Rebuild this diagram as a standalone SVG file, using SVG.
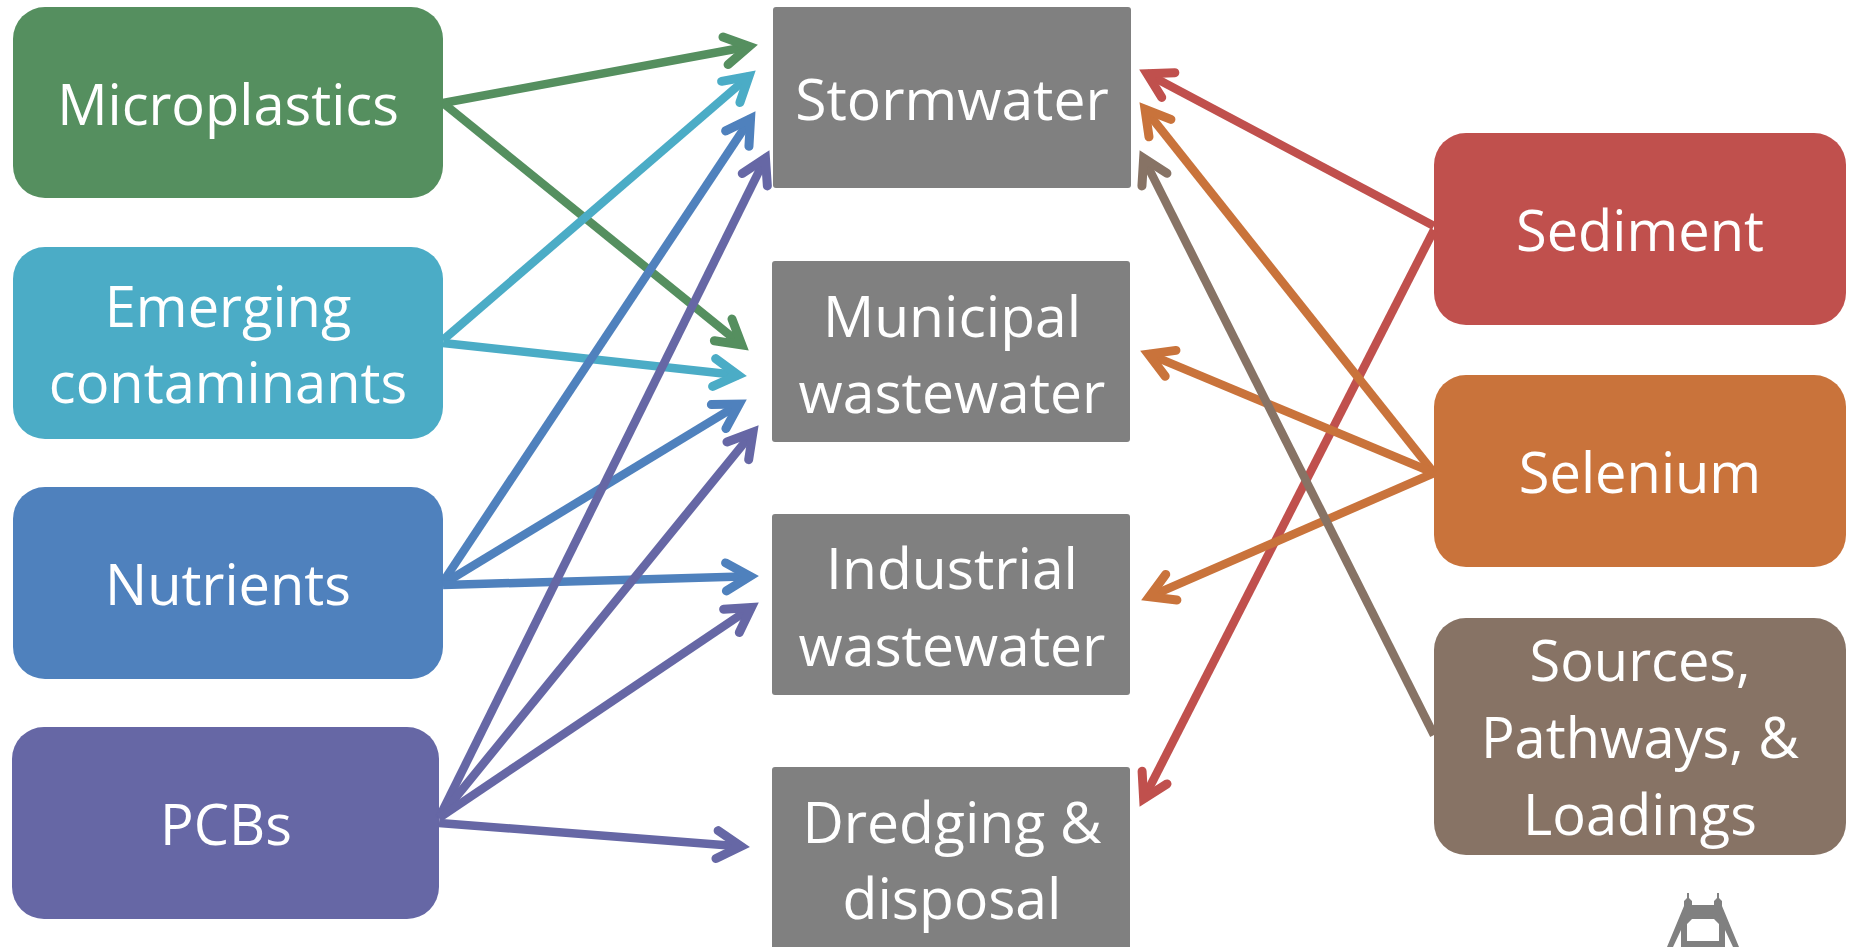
<svg xmlns="http://www.w3.org/2000/svg" width="1854" height="947" viewBox="0 0 1854 947">
<style>
text{font-family:"Open Sans","Liberation Sans",sans-serif;font-size:56px;fill:#fff;text-anchor:middle}
.w{font-size:57px}
.c{fill:none;stroke-width:8.5}
.g{stroke:#558F5F}.cy{stroke:#4BACC6}.b{stroke:#4F81BD}.p{stroke:#6667A5}.r{stroke:#C0504D}.o{stroke:#C9733B}.br{stroke:#877365}
.mh{fill:none;stroke-width:9;stroke-linecap:round;stroke-linejoin:miter;stroke-miterlimit:10}
</style>
<defs>
<marker id="mg" markerUnits="userSpaceOnUse" viewBox="-30 -20 45 40" refX="0" refY="0" markerWidth="45" markerHeight="40" orient="auto"><path class="mh g" d="M-25-14L-1 0L-25 14"/></marker>
<marker id="mcy" markerUnits="userSpaceOnUse" viewBox="-30 -20 45 40" refX="0" refY="0" markerWidth="45" markerHeight="40" orient="auto"><path class="mh cy" d="M-25-14L-1 0L-25 14"/></marker>
<marker id="mb" markerUnits="userSpaceOnUse" viewBox="-30 -20 45 40" refX="0" refY="0" markerWidth="45" markerHeight="40" orient="auto"><path class="mh b" d="M-25-14L-1 0L-25 14"/></marker>
<marker id="mp" markerUnits="userSpaceOnUse" viewBox="-30 -20 45 40" refX="0" refY="0" markerWidth="45" markerHeight="40" orient="auto"><path class="mh p" d="M-25-14L-1 0L-25 14"/></marker>
<marker id="mr" markerUnits="userSpaceOnUse" viewBox="-30 -20 45 40" refX="0" refY="0" markerWidth="45" markerHeight="40" orient="auto"><path class="mh r" d="M-25-14L-1 0L-25 14"/></marker>
<marker id="mo" markerUnits="userSpaceOnUse" viewBox="-30 -20 45 40" refX="0" refY="0" markerWidth="45" markerHeight="40" orient="auto"><path class="mh o" d="M-25-14L-1 0L-25 14"/></marker>
<marker id="mbr" markerUnits="userSpaceOnUse" viewBox="-30 -20 45 40" refX="0" refY="0" markerWidth="45" markerHeight="40" orient="auto"><path class="mh br" d="M-25-14L-1 0L-25 14"/></marker>
</defs>
<rect width="1854" height="947" fill="#fff"/>
<g id="microplastics"><rect x="13" y="7" width="430" height="191" rx="32" fill="#558F5F"/><text x="228" y="125">Microplastics</text></g>
<g id="emerging"><rect x="13" y="247" width="430" height="192" rx="32" fill="#4BACC6"/><text x="228" y="327">Emerging</text><text x="228" y="403">contaminants</text></g>
<g id="nutrients"><rect x="13" y="487" width="430" height="192" rx="32" fill="#4F81BD"/><text x="228" y="605">Nutrients</text></g>
<g id="pcbs"><rect x="12" y="727" width="427" height="192" rx="32" fill="#6667A5"/><text x="226" y="845">PCBs</text></g>
<g id="stormwater"><rect x="773" y="7" width="358" height="181" rx="3" fill="#808080"/><text class="w" x="952" y="120">Stormwater</text></g>
<g id="municipal"><rect x="772" y="261" width="358" height="181" rx="3" fill="#808080"/><text class="w" x="952" y="337">Municipal</text><text class="w" x="952" y="413">wastewater</text></g>
<g id="industrial"><rect x="772" y="514" width="358" height="181" rx="3" fill="#808080"/><text class="w" x="952" y="589">Industrial</text><text class="w" x="952" y="666">wastewater</text></g>
<g id="dredging"><rect x="772" y="767" width="358" height="190" rx="3" fill="#808080"/><text class="w" x="952" y="843">Dredging &amp;</text><text class="w" x="952" y="919">disposal</text></g>
<g id="sediment"><rect x="1434" y="133" width="412" height="192" rx="32" fill="#C0504D"/><text x="1640" y="251">Sediment</text></g>
<g id="selenium"><rect x="1434" y="375" width="412" height="192" rx="32" fill="#C9733B"/><text x="1640" y="493">Selenium</text></g>
<g id="sources"><rect x="1434" y="618" width="412" height="237" rx="32" fill="#877365"/><text x="1640" y="681">Sources,</text><text x="1640" y="758">Pathways, &amp;</text><text x="1640" y="835">Loadings</text></g>
<g id="connectors">
<path class="c g" marker-end="url(#mg)" d="M443 103L750.1 46.3"/>
<path class="c g" marker-end="url(#mg)" d="M443 103L742.6 345.6"/>
<path class="c cy" marker-end="url(#mcy)" d="M443 340L749.7 75.6"/>
<path class="c cy" marker-end="url(#mcy)" d="M443 343L739 375.2"/>
<path class="c b" marker-end="url(#mb)" d="M443 582L751.1 117.8"/>
<path class="c b" marker-end="url(#mb)" d="M443 584L740 403.6"/>
<path class="c b" marker-end="url(#mb)" d="M443 585L751 576.2"/>
<path class="c p" marker-end="url(#mp)" d="M439 818L765.9 157.3"/>
<path class="c p" marker-end="url(#mp)" d="M439 818L753.6 431.4"/>
<path class="c p" marker-end="url(#mp)" d="M439 818L752.2 606.9"/>
<path class="c p" marker-end="url(#mp)" d="M439 823L742 846.5"/>
<path class="c r" marker-end="url(#mr)" d="M1434 226L1146.2 73.3"/>
<path class="c r" marker-end="url(#mr)" d="M1434 230L1143.2 799.8"/>
<path class="c o" marker-end="url(#mo)" d="M1434 473L1144.4 108.5"/>
<path class="c o" marker-end="url(#mo)" d="M1434 473L1147.5 353.7"/>
<path class="c o" marker-end="url(#mo)" d="M1434 473L1148.4 597.2"/>
<path class="c br" marker-end="url(#mbr)" d="M1434 735L1143.2 157.3"/>
</g>
<path id="bridge" fill="#808080" fill-rule="evenodd" d="M1687 893H1689V898L1692 901V905H1714V901L1717 898V893H1719V898L1722 901V906L1739 947H1733L1725 930V947H1681V930L1673 947H1667L1684 906V901L1687 898ZM1687 924L1692 919H1714L1719 924V941H1687Z"/>
</svg>
